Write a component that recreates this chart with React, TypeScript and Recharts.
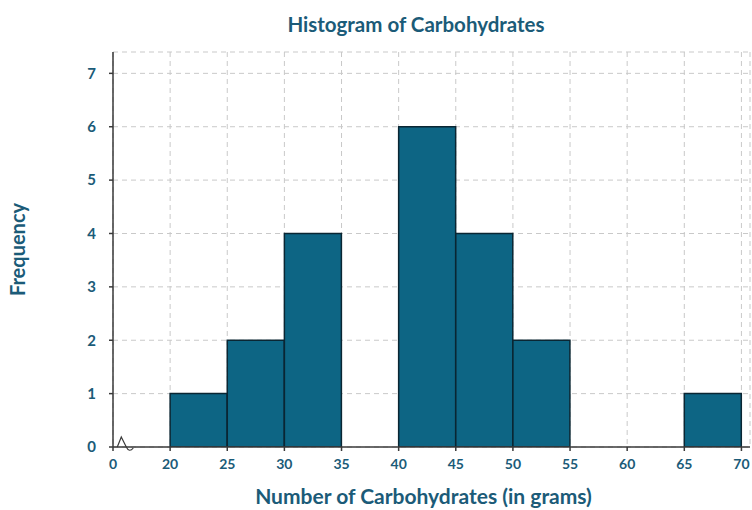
import React from 'react';
import {
  CartesianGrid,
  ComposedChart,
  Bar,
  XAxis,
  YAxis,
  ReferenceDot,
} from 'recharts';

// axis tick labels (broken axis: 0 then 20..70)
const tickLabels = ['0', '20', '25', '30', '35', '40', '45', '50', '55', '60', '65', '70'];
// bins start at 20, width 5
const binStarts = [20, 25, 30, 35, 40, 45, 50, 55, 60, 65];
const frequencies = [1, 2, 4, 0, 6, 4, 2, 0, 0, 1];
const yTicks = [0, 1, 2, 3, 4, 5, 6, 7];

const TEXT = '#1b5b78';
const BAR = '#0d6584';
const AXIS = '#3a3a3a';
const FONT = 'Lato, "Open Sans", sans-serif';

const data = binStarts.map((start, i) => ({
  pos: tickLabels.indexOf(String(start)) + 0.5,
  label: `${start}-${start + 5}`,
  freq: frequencies[i],
}));

const xTicks = tickLabels.map((_, i) => i);

const BreakMark = (props: any) => {
  const { cx, cy } = props;
  if (cx == null || cy == null) return null;
  return (
    <path
      d={`M${cx - 10},${cy} L${cx - 6},${cy - 10} L${cx - 1},${cy} Q${cx + 2},${cy + 6} ${cx + 6},${cy + 1}`}
      fill="none"
      stroke={AXIS}
      strokeWidth={1.2}
    />
  );
};

export default function App() {
  return (
    <div style={{ position: 'absolute', left: 0, top: 0, width: 752, height: 510, background: '#fff' }}>
      <svg width={752} height={40} style={{ position: 'absolute', left: 0, top: 0 }}>
        <text x={416} y={32} textAnchor="middle" fill={TEXT} fontFamily={FONT} fontWeight={700} fontSize={20.5}>
          Histogram of Carbohydrates
        </text>
      </svg>
      <ComposedChart
        width={752}
        height={510}
        data={data}
        margin={{ top: 52, right: 2, bottom: 0, left: 48 }}
        barCategoryGap={0}
        barGap={0}
      >
        <CartesianGrid stroke="#c9c9c9" strokeDasharray="5 4" />
        <XAxis
          dataKey="pos"
          type="number"
          domain={[0, 11.15]}
          ticks={xTicks}
          allowDataOverflow
          tickFormatter={(v: number) => tickLabels[v] ?? ''}
          tick={{ fill: TEXT, fontSize: 14, fontWeight: 700, fontFamily: FONT }}
          tickSize={4}
          tickMargin={8}
          stroke={AXIS}
          strokeWidth={1.5}
          height={63}
          label={{
            value: 'Number of Carbohydrates (in grams)',
            position: 'insideBottom',
            offset: 6,
            fill: TEXT,
            fontSize: 21,
            fontWeight: 700,
            fontFamily: FONT,
            dx: -8,
          }}
        />
        <YAxis
          type="number"
          domain={[0, 7.4]}
          ticks={yTicks}
          allowDataOverflow
          tick={{ fill: TEXT, fontSize: 15, fontWeight: 700, fontFamily: FONT }}
          tickSize={4}
          tickMargin={13}
          stroke={AXIS}
          strokeWidth={1.5}
          width={65}
          label={{
            value: 'Frequency',
            angle: -90,
            position: 'insideLeft',
            offset: -30,
            fill: TEXT,
            fontSize: 20,
            fontWeight: 700,
            fontFamily: FONT,
            style: { textAnchor: 'middle' },
          }}
        />
        <Bar
          dataKey="freq"
          fill={BAR}
          stroke="#0a2633"
          strokeWidth={1.5}
          isAnimationActive={false}
        />
        <ReferenceDot x={0.25} y={0} r={0} shape={BreakMark} ifOverflow="visible" />
      </ComposedChart>
    </div>
  );
}
